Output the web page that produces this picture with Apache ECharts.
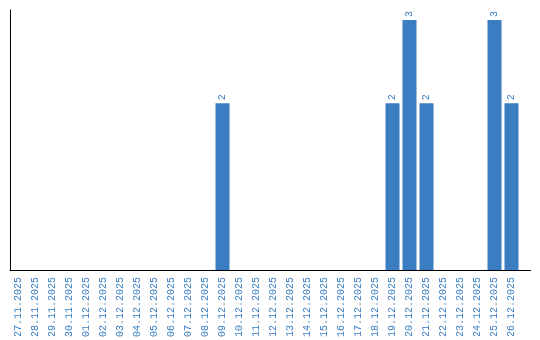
<!DOCTYPE html>
<html><head><meta charset="utf-8">
<script src="https://cdn.jsdelivr.net/npm/echarts@6/dist/echarts.min.js"></script>
<style>html,body{margin:0;padding:0;background:#fff}#c{width:540px;height:340px}</style>
</head><body><div id="c"></div>
<script>
const categories = ["27.11.2025","28.11.2025","29.11.2025","30.11.2025","01.12.2025","02.12.2025","03.12.2025","04.12.2025","05.12.2025","06.12.2025","07.12.2025","08.12.2025","09.12.2025","10.12.2025","11.12.2025","12.12.2025","13.12.2025","14.12.2025","15.12.2025","16.12.2025","17.12.2025","18.12.2025","19.12.2025","20.12.2025","21.12.2025","22.12.2025","23.12.2025","24.12.2025","25.12.2025","26.12.2025"];
const values = [0,0,0,0,0,0,0,0,0,0,0,0,2,0,0,0,0,0,0,0,0,0,2,3,2,0,0,0,3,2];
const blue = '#3a7dc2';
const chart = echarts.init(document.getElementById('c'), null, {renderer:'canvas'});
chart.setOption({
  animation:false,
  grid:{left:10,right:20,top:10,bottom:70,containLabel:false},
  xAxis:{type:'category',data:categories,boundaryGap:true,
    axisLine:{show:true,lineStyle:{color:'#000',width:1}},
    axisTick:{show:false},
    axisLabel:{rotate:90,interval:0,color:blue,fontFamily:'Liberation Mono',fontSize:10,margin:7}},
  yAxis:{type:'value',min:0,max:3.12,axisLine:{show:true,lineStyle:{color:'#000',width:1}},
    axisTick:{show:false},axisLabel:{show:false},splitLine:{show:false}},
  series:[{type:'bar',data:values,barWidth:14,itemStyle:{color:blue},
    label:{show:true,position:'top',rotate:90,distance:3,color:blue,fontFamily:'Liberation Mono',fontSize:10,
      align:'left',verticalAlign:'middle',
      formatter:p=>p.value?String(p.value):''}}],
  graphic:[{type:'line',shape:{x1:519,y1:270.5,x2:531,y2:270.5},style:{stroke:'#000',lineWidth:1}}]
});
</script></body></html>
